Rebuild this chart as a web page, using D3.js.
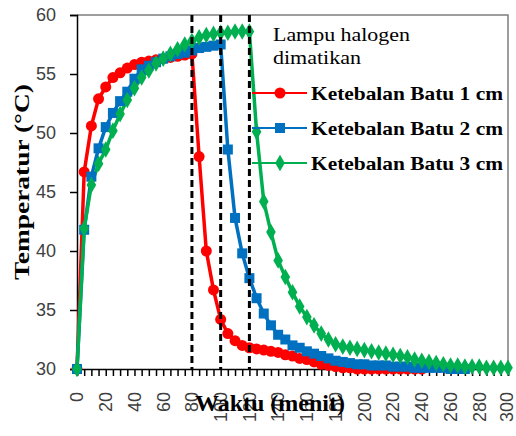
<!DOCTYPE html>
<html><head><meta charset="utf-8">
<script src="https://cdn.jsdelivr.net/npm/d3@7"></script>
<style>body{margin:0;background:#fff}svg{display:block}</style>
</head><body>
<svg id="c" width="516" height="436"></svg>
<script>
const timesRed = [0,5,10,15,20,25,30,35,40,45,50,55,60,65,70,75,80,85,90,95,100,105,110,115,120,125,130,135,140,145,150,155,160,165,170,175,180,185,190,195,200,205,210,215,220,225,230,235,240];
const tempRed = [30,46.7,50.6,52.9,53.9,54.7,55.1,55.5,55.8,56.0,56.1,56.2,56.3,56.4,56.5,56.6,56.7,48.0,40.0,36.7,34.2,33.0,32.4,32.0,31.8,31.7,31.6,31.5,31.4,31.2,31.1,30.9,30.8,30.6,30.4,30.3,30.2,30.1,30.1,30.0,30.0,30.0,30.0,30.0,30.0,30.0,30.0,30.0,30.0];
const timesBlue = [0,5,10,15,20,25,30,35,40,45,50,55,60,65,70,75,80,85,90,95,100,105,110,115,120,125,130,135,140,145,150,155,160,165,170,175,180,185,190,195,200,205,210,215,220,225,230,235,240,245,250,255,260,265,270];
const tempBlue = [30,41.8,46.3,48.7,50.5,51.7,52.7,53.5,54.6,55.4,55.7,56.0,56.3,56.5,56.7,56.8,57.0,57.2,57.3,57.4,57.5,48.6,42.8,39.8,37.7,36.0,34.7,33.7,32.9,32.5,32.0,31.8,31.5,31.3,31.1,30.9,30.7,30.6,30.5,30.4,30.4,30.3,30.3,30.3,30.2,30.2,30.2,30.1,30.1,30.1,30.1,30.1,30.0,30.0,30.0];
const timesGreen = [0,5,10,15,20,25,30,35,40,45,50,55,60,65,70,75,80,85,90,95,100,105,110,115,120,125,130,135,140,145,150,155,160,165,170,175,180,185,190,195,200,205,210,215,220,225,230,235,240,245,250,255,260,265,270,275,280,285,290,295,300];
const tempGreen = [30,41.9,45.6,47.4,48.6,50.2,51.6,52.8,53.8,54.7,55.3,55.9,56.3,56.7,57.1,57.5,57.8,58.1,58.3,58.4,58.5,58.5,58.6,58.6,58.6,50.1,44.2,41.6,39.2,37.8,36.5,35.3,34.4,33.7,33.0,32.5,32.1,31.9,31.8,31.7,31.6,31.5,31.4,31.3,31.2,31.1,31.0,30.8,30.7,30.6,30.5,30.4,30.3,30.3,30.2,30.2,30.2,30.1,30.1,30.1,30.1];
const seriesNames = ["Ketebalan Batu 1 cm","Ketebalan Batu 2 cm","Ketebalan Batu 3 cm"];
const lampOffTimes = [80,100,120];
const xTickLabels = [0,20,40,60,80,100,120,140,160,180,200,220,240,260,280,300];
const yTickLabels = [30,35,40,45,50,55,60];
const annotationLines = ["Lampu halogen","dimatikan"];
const xTitle = "Waktu (menit)";
const yTitle = "Temperatur (°C)";

const L=77, T=15, R=508, B=369;
const svg = d3.select("#c");
const x = d3.scaleLinear().domain([0,300]).range([L,R]);
const y = d3.scaleLinear().domain([30,60]).range([B,T]);
const colors = ["#FF0000","#0070C0","#00B050"];

svg.append("path").attr("d",`M${L},${T}H${R}V${B}`).attr("fill","none").attr("stroke","#7f7f7f").attr("stroke-width",1.5);

const yAxis = svg.append("g").attr("transform",`translate(${L},0)`)
  .call(d3.axisLeft(y).tickValues(yTickLabels).tickSize(7).tickPadding(14));
yAxis.selectAll("text").attr("font-family","Liberation Sans, Arial, sans-serif").attr("font-size",18).attr("fill","#404040");
yAxis.selectAll("line,path").attr("stroke","#000").attr("stroke-width",1.5);

const minorTicks = d3.range(0,301,5);
const xAxis = svg.append("g").attr("transform",`translate(0,${B})`)
  .call(d3.axisBottom(x).tickValues(minorTicks).tickSize(7).tickFormat(""));
xAxis.selectAll("line,path").attr("stroke","#000").attr("stroke-width",1.5);
svg.append("g").selectAll("text").data(xTickLabels).join("text")
  .attr("transform",d=>`translate(${Math.min(x(d),507)},392) rotate(-90)`)
  .attr("text-anchor","end").attr("dy","0.35em")
  .attr("font-family","Liberation Sans, Arial, sans-serif").attr("font-size",18).attr("fill","#404040")
  .text(d=>d);

const data = [
  timesRed.map((t,i)=>[t,tempRed[i]]),
  timesBlue.map((t,i)=>[t,tempBlue[i]]),
  timesGreen.map((t,i)=>[t,tempGreen[i]])
];
const line = d3.line().x(d=>x(d[0])).y(d=>y(d[1]));
const symbols = [d3.symbolCircle, d3.symbolSquare, d3.symbolDiamond];
const sizes = [95, 100, 80];
data.forEach((ser,i)=>{
  svg.append("path").datum(ser).attr("d",line).attr("fill","none").attr("stroke",colors[i]).attr("stroke-width",3.5);
});
data.forEach((ser,i)=>{
  svg.append("g").selectAll("path").data(ser).join("path")
    .attr("transform",d=>`translate(${x(d[0])},${y(d[1])})`)
    .attr("d",d3.symbol().type(symbols[i]).size(sizes[i])).attr("fill",colors[i]);
});

svg.append("g").selectAll("line").data(lampOffTimes).join("line")
  .attr("x1",d=>x(d)).attr("x2",d=>x(d)).attr("y1",T).attr("y2",B)
  .attr("stroke","#000").attr("stroke-width",3).attr("stroke-dasharray","7,4");

const annWidths = [137, 88];
svg.append("g").selectAll("text").data(annotationLines).join("text")
  .attr("x",273).attr("y",(d,i)=>41+i*23)
  .attr("font-family","Liberation Serif, Times New Roman, serif").attr("font-size",19).attr("fill","#000")
  .attr("textLength",(d,i)=>annWidths[i]).attr("lengthAdjust","spacingAndGlyphs")
  .text(d=>d);

const lg = svg.append("g");
seriesNames.forEach((n,i)=>{
  const ly = 93 + i*35;
  lg.append("line").attr("x1",252).attr("x2",307).attr("y1",ly).attr("y2",ly).attr("stroke",colors[i]).attr("stroke-width",2);
  lg.append("path").attr("transform",`translate(280,${ly})`).attr("d",d3.symbol().type(symbols[i]).size(sizes[i])).attr("fill",colors[i]);
  lg.append("text").attr("x",311).attr("y",ly).attr("dy","0.35em")
    .attr("font-family","Liberation Serif, Times New Roman, serif").attr("font-weight","bold").attr("font-size",19)
    .attr("textLength",192).attr("lengthAdjust","spacingAndGlyphs")
    .text(n);
});

svg.append("text").attr("x",270).attr("y",411).attr("text-anchor","middle")
  .attr("font-family","Liberation Serif, Times New Roman, serif").attr("font-weight","bold").attr("font-size",23)
  .attr("textLength",150).attr("lengthAdjust","spacingAndGlyphs")
  .text(xTitle);
svg.append("text").attr("transform","translate(29,182) rotate(-90)").attr("text-anchor","middle")
  .attr("font-family","Liberation Serif, Times New Roman, serif").attr("font-weight","bold").attr("font-size",22)
  .attr("textLength",196).attr("lengthAdjust","spacingAndGlyphs")
  .text(yTitle);
</script>
</body></html>
